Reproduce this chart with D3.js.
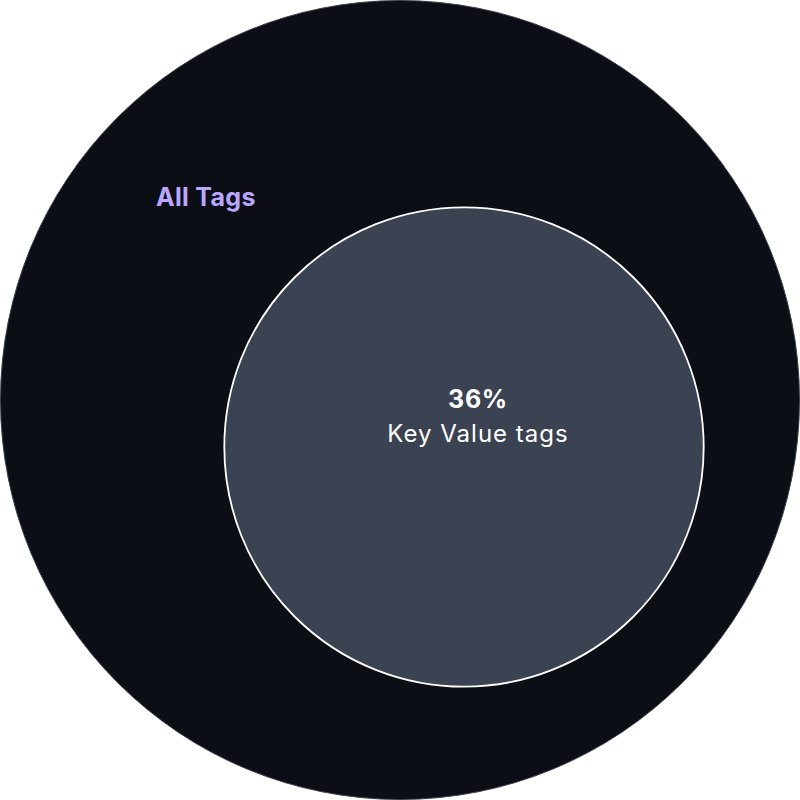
<!DOCTYPE html>
<html><head><meta charset="utf-8">
<script src="https://cdn.jsdelivr.net/npm/d3@7"></script>
<style>html,body{margin:0;padding:0;background:#fff;}svg{display:block;}</style>
</head><body>
<svg id="chart" width="800" height="800"></svg>
<script>
const sets = ["All Tags", "Key Value tags"];
const values = [100, 36];
const valueLabels = ["", "36%"];

const svg = d3.select("#chart");
const W = 800, H = 800;
const outerR = 399.5;
const r = d3.scaleSqrt().domain([0, values[0]]).range([0, outerR]);

const cx = W / 2, cy = H / 2;
svg.append("circle")
  .attr("cx", cx).attr("cy", cy).attr("r", r(values[0]))
  .attr("fill", "#0b0e15").attr("stroke", "#3a3f4d").attr("stroke-width", 1);

const innerCx = cx + 64, innerCy = cy + 47;
svg.append("circle")
  .attr("cx", innerCx).attr("cy", innerCy).attr("r", r(values[1]))
  .attr("fill", "#3b4252").attr("stroke", "#ffffff").attr("stroke-width", 1.8);

svg.append("text")
  .attr("x", 156).attr("y", 206)
  .attr("font-family", "Inter, sans-serif").attr("font-weight", 700)
  .attr("font-size", 25).attr("letter-spacing", 0.3).attr("fill", "#b9a6ff")
  .text(sets[0]);

const tx = innerCx + 14;
svg.append("text")
  .attr("x", tx).attr("y", 408).attr("text-anchor", "middle")
  .attr("font-family", "Inter, sans-serif").attr("font-weight", 700)
  .attr("font-size", 25).attr("letter-spacing", 0.7).attr("fill", "#ffffff")
  .text(valueLabels[1]);
svg.append("text")
  .attr("x", tx).attr("y", 442).attr("text-anchor", "middle")
  .attr("font-family", "Inter, sans-serif").attr("font-weight", 400)
  .attr("font-size", 24).attr("letter-spacing", 1).attr("fill", "#ffffff")
  .text(sets[1]);
</script>
</body></html>
